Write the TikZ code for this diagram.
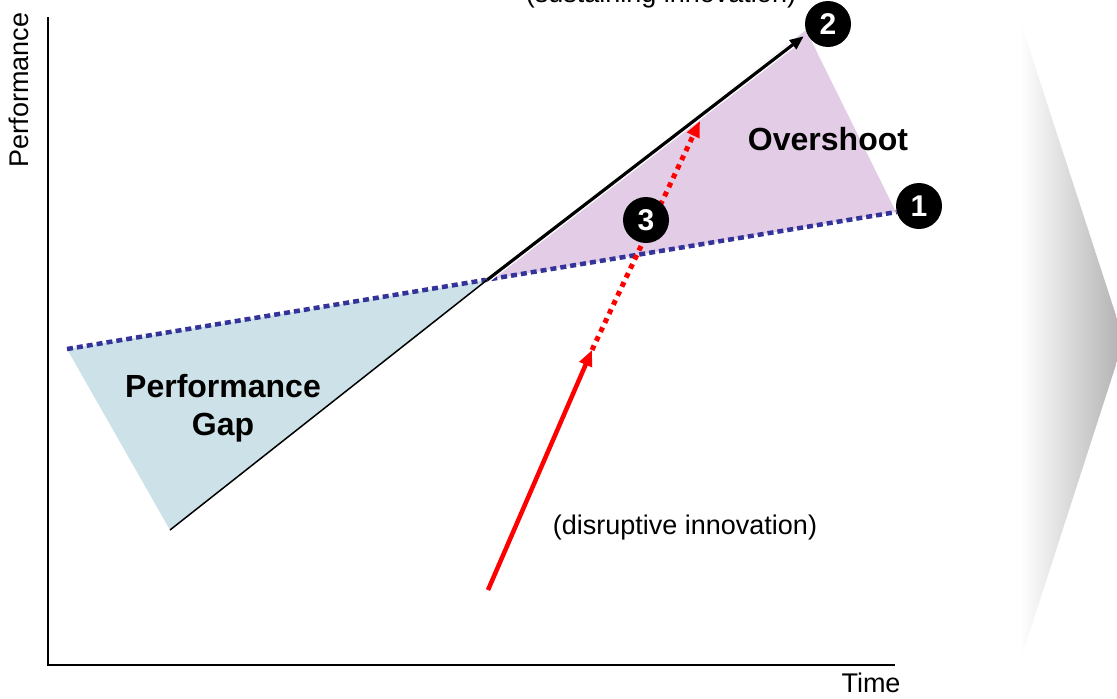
\documentclass[tikz,border=0pt]{standalone}
\usepackage{fontspec}
\setmainfont{Liberation Sans}
\usetikzlibrary{arrows.meta,calc}

\definecolor{gapfill}{HTML}{CCE1E8}
\definecolor{overfill}{HTML}{E2CCE6}
\definecolor{trendblue}{HTML}{333399}

\tikzset{
  axis/.style={line width=2.4pt, black},
  trend/.style={line width=4.5pt, trendblue, dash pattern=on 6pt off 4pt},
  numdot/.style={circle, fill=black, minimum size=46pt, inner sep=0pt,
    text=white, font=\fontsize{30}{30}\bfseries\selectfont},
  bigbold/.style={font=\fontsize{32}{38}\bfseries\selectfont, align=center},
  plain/.style={font=\fontsize{27}{30}\selectfont},
  redsolid/.style={red, line width=4.5pt, -{Triangle[length=16pt,width=13pt]}},
  reddot/.style={red, line width=5pt, dash pattern=on 5pt off 5pt,
    -{Triangle[length=16pt,width=13pt]}},
}

\begin{document}
\begin{tikzpicture}[x=1pt,y=-1pt]
\useasboundingbox (0,0) rectangle (1117,699);
\begin{scope}
\clip (0,0) rectangle (1117,699);

% shaded chevron on the right
\shade[left color=white, right color=gray!62]
  (1020,20) -- (1124,340) -- (1020,662) -- cycle;

% key points
\coordinate (gapL) at (67,349);
\coordinate (gapB) at (170,530);
\coordinate (cross) at (487,280);
\coordinate (overT) at (806,30);
\coordinate (overR) at (896,212);
\coordinate (origin) at (48,665);
\coordinate (ytop) at (48,17);
\coordinate (xend) at (895,665);
\coordinate (redS) at (488,590);
\coordinate (redM) at (592,350);
\coordinate (redE) at (700,121);

% shaded regions
\fill[gapfill] (gapL) -- (gapB) -- (cross) -- cycle;
\fill[overfill] (cross) -- (overT) -- (overR) -- cycle;

% axes
\draw[axis] (ytop) -- (origin) -- (xend);

% numbered markers
\node[numdot] (n2) at (828,24) {2};
\node[numdot] (n1) at (919,206) {1};

% current trajectory
\draw[trend] (gapL) -- (n1.195);

% sustaining innovation
\draw[line width=1.5pt] (gapB) -- (cross);
\draw[white, line width=6pt, shorten >=12pt] (cross) -- (n2.205);
\draw[line width=3.2pt, shorten >=4pt, -{Triangle[length=14pt,width=11pt]}] (cross) -- (n2.205);

% disruptive innovation
\draw[redsolid] (redS) -- (redM);
\draw[reddot] (redM) -- (redE);

\node[numdot] (n3) at (646,220) {3};

% labels
\node[bigbold] (gap) at (223,408) {Performance\\Gap};
\node[bigbold] (over) at (828,139) {Overshoot};
\node[plain] (dis) at (685,528) {(disruptive innovation)};
\node[plain] (sus) at (661,-4) {(sustaining innovation)};
\node[plain] (time) at (871,683) {Time};
\node[plain, rotate=90] (perf) at (19,90) {Performance};
\end{scope}
\end{tikzpicture}
\end{document}
